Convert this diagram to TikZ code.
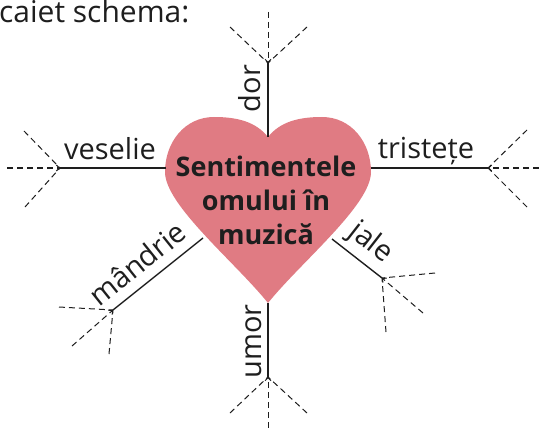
\documentclass[tikz,border=0pt]{standalone}
\usepackage{fontspec}
\setmainfont{Open Sans}
\usetikzlibrary{arrows.meta}
\definecolor{heartpink}{RGB}{224,123,131}
\definecolor{ink}{RGB}{30,30,30}
\begin{document}
\begin{tikzpicture}[x=1pt,y=-1pt,
  lbl/.style={font=\fontsize{29}{31}\selectfont, inner sep=0pt, anchor=base, text=ink},
  solidline/.style={line width=1.4pt, draw=ink},
  fan/.style={draw=ink, dash pattern=on 6pt off 4pt, line width=1pt},
  tipfan/.style={fan, -{Straight Barb[length=3pt,width=6pt]}},
]
\useasboundingbox (0,0) rectangle (539,428);

% heart
\fill[heartpink] (268,137) .. controls (256,122) and (238,117) .. (214,117)
  .. controls (185,117) and (165,142) .. (165,172)
  .. controls (165,205) and (235,262) .. (268,303)
  .. controls (301,262) and (371,205) .. (371,172)
  .. controls (371,142) and (351,117) .. (322,117)
  .. controls (298,117) and (280,122) .. (268,137) -- cycle;

\node[font=\bfseries\fontsize{27}{34}\selectfont, align=center, inner sep=0pt, text=ink]
  (title) at (266,200) {Sentimentele\\omului în\\muzică};

% top text
\node[font=\fontsize{30}{31}\selectfont, anchor=base west, inner sep=0pt, text=ink]
  (cap) at (-1,23) {caiet schema:};

% attachment points on the heart
\coordinate (hL) at (166,168);
\coordinate (hR) at (371,168);
\coordinate (hT) at (268,137);
\coordinate (hB) at (268,303);
\coordinate (hML) at (203,238);
\coordinate (hMR) at (332,239);

% junctions
\coordinate (jV) at (60,168);
\coordinate (jT) at (488,168);
\coordinate (jD) at (268,63);
\coordinate (jU) at (268,377);
\coordinate (jM) at (113,310);
\coordinate (jJ) at (382,278);

% fan ends
\coordinate (vM) at (7,168);   \coordinate (vA) at (24,131);  \coordinate (vB) at (25,207);
\coordinate (tM) at (539,168); \coordinate (tA) at (527,130); \coordinate (tB) at (527,207);
\coordinate (dM) at (268,12);  \coordinate (dA) at (230,27);  \coordinate (dB) at (307,27);
\coordinate (uM) at (268,428); \coordinate (uA) at (230,413); \coordinate (uB) at (307,413);
\coordinate (mM) at (72,346);  \coordinate (mA) at (59,307);  \coordinate (mB) at (109,354);
\coordinate (aM) at (423,313); \coordinate (aA) at (435,273); \coordinate (aB) at (386,332);

% solid spokes
\draw[solidline] (hL) -- (jV);
\draw[solidline] (hR) -- (jT);
\draw[solidline] (hT) -- (jD);
\draw[solidline] (hB) -- (jU);
\draw[solidline] (hML) -- (jM);
\draw[solidline] (hMR) -- (jJ);

% dashed fans
\draw[tipfan] (vM) -- (jV); \draw[fan] (vA) -- (jV); \draw[fan] (vB) -- (jV);
\draw[tipfan] (tM) -- (jT); \draw[fan] (tA) -- (jT); \draw[fan] (tB) -- (jT);
\draw[tipfan] (dM) -- (jD); \draw[fan] (dA) -- (jD); \draw[fan] (dB) -- (jD);
\draw[tipfan] (uM) -- (jU); \draw[fan] (uA) -- (jU); \draw[fan] (uB) -- (jU);
\draw[tipfan] (mM) -- (jM); \draw[fan] (mA) -- (jM); \draw[fan] (mB) -- (jM);
\draw[tipfan] (aM) -- (jJ); \draw[fan] (aA) -- (jJ); \draw[fan] (aB) -- (jJ);

% labels
\node[lbl] (vesL) at (110,160) {veselie};
\node[lbl] (triL) at (426,159) {tristețe};
\node[lbl, rotate=90] (dorL) at (260,88.5) {dor};
\node[lbl, rotate=90] (umoL) at (261,341.5) {umor};
\node[lbl, rotate=38.7] (manL) at (144,272) {mândrie};
\node[lbl, rotate=-38] (jalL) at (366,249) {jale};
\end{tikzpicture}
\end{document}
